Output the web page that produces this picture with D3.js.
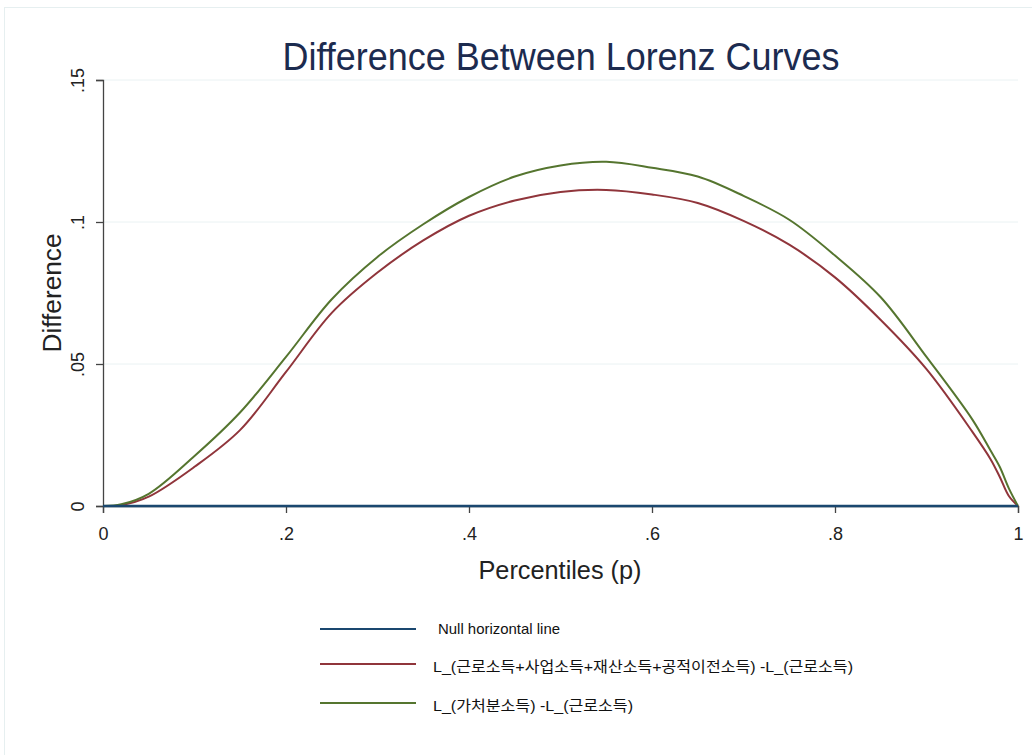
<!DOCTYPE html>
<html>
<head>
<meta charset="utf-8">
<script src="https://cdn.jsdelivr.net/npm/d3@7"></script>
<style>
  html, body { margin: 0; padding: 0; background: #ffffff; }
  svg { display: block; }
</style>
</head>
<body>
<svg id="chart" width="1032" height="755"></svg>
<script>
// Percentile grid shared by both difference curves
const percentiles = [0, 0.02, 0.05, 0.10, 0.15, 0.20, 0.25, 0.30, 0.35, 0.40, 0.45, 0.50,
  0.55, 0.60, 0.65, 0.70, 0.75, 0.80, 0.85, 0.90, 0.95, 0.97, 0.98, 0.99, 1.0];

// L_(근로+사업+재산+공적이전소득) - L_(근로소득)
const diffMarket = [0, 0.0003, 0.0033, 0.0138, 0.0268, 0.0472, 0.0680, 0.0822, 0.0935, 0.1022,
  0.1076, 0.1106, 0.1113, 0.1097, 0.1067, 0.1004, 0.0920, 0.0805, 0.0655, 0.0482, 0.0262,
  0.0165, 0.0103, 0.0035, 0];

// L_(가처분소득) - L_(근로소득)
const diffDisposable = [0, 0.0006, 0.0043, 0.0176, 0.0330, 0.0525, 0.0728, 0.0877, 0.0992, 0.1088,
  0.1160, 0.1199, 0.1212, 0.1191, 0.1160, 0.1092, 0.1008, 0.0882, 0.0735, 0.0525, 0.0305,
  0.0195, 0.0138, 0.0062, 0];

// Null reference line
const nullLine = [0, 0];
const nullP = [0, 1];

const xTicks = [0, 0.2, 0.4, 0.6, 0.8, 1];
const xTickLabels = ["0", ".2", ".4", ".6", ".8", "1"];
const yTicks = [0, 0.05, 0.1, 0.15];
const yTickLabels = ["0", ".05", ".1", ".15"];

const legendLabels = [
  "Null horizontal line",
  "L_(근로소득+사업소득+재산소득+공적이전소득) -L_(근로소득)",
  "L_(가처분소득) -L_(근로소득)"
];
const legendWidths = [122, 420, 200];
const colors = ["#1a476f", "#90353b", "#55752f"];

const svg = d3.select("#chart");
const font = "'Liberation Sans', Arial, 'Noto Sans CJK KR', sans-serif";

// Faint outer frame of the graph region
svg.append("rect")
  .attr("x", 4.5).attr("y", 7.5)
  .attr("width", 1040).attr("height", 760)
  .attr("fill", "none").attr("stroke", "#e6eff0").attr("stroke-width", 1);

const x = d3.scaleLinear().domain([0, 1]).range([103, 1018]);
const y = d3.scaleLinear().domain([0, 0.15]).range([506, 80]);

// Horizontal gridlines
svg.append("g")
  .selectAll("line")
  .data(yTicks.filter(d => d > 0))
  .join("line")
  .attr("x1", x(0)).attr("x2", x(1))
  .attr("y1", d => y(d)).attr("y2", d => y(d))
  .attr("stroke", "#eaf2f3").attr("stroke-width", 1);

// Y axis
const yAxis = d3.axisLeft(y)
  .tickValues(yTicks)
  .tickFormat((d, i) => yTickLabels[i])
  .tickSize(7)
  .tickPadding(9);
const gy = svg.append("g").attr("transform", `translate(${x(0)},0)`).call(yAxis);
gy.select(".domain").attr("stroke", "#444").attr("stroke-width", 1.3);
gy.selectAll(".tick line").attr("stroke", "#444").attr("stroke-width", 1.3);
gy.selectAll(".tick text")
  .attr("font-family", font).attr("font-size", 18).attr("fill", "#222")
  .attr("transform", "rotate(-90)")
  .attr("x", 0).attr("dy", 0).attr("y", -19)
  .attr("text-anchor", "middle");

// X axis
const xAxis = d3.axisBottom(x)
  .tickValues(xTicks)
  .tickFormat((d, i) => xTickLabels[i])
  .tickSize(7)
  .tickPadding(14);
const gx = svg.append("g").attr("transform", `translate(0,${y(0)})`).call(xAxis);
gx.select(".domain").attr("stroke", "#444").attr("stroke-width", 1.3);
gx.selectAll(".tick line").attr("stroke", "#444").attr("stroke-width", 1.3);
gx.selectAll(".tick text")
  .attr("font-family", font).attr("font-size", 18).attr("fill", "#222");

// Curves
const line = d3.line().x(d => x(d[0])).y(d => y(d[1])).curve(d3.curveCatmullRom.alpha(0.5));

const series = [
  nullP.map((p, i) => [p, nullLine[i]]),
  percentiles.map((p, i) => [p, diffMarket[i]]),
  percentiles.map((p, i) => [p, diffDisposable[i]])
];

svg.append("path").datum(series[1]).attr("d", line)
  .attr("fill", "none").attr("stroke", colors[1]).attr("stroke-width", 2);
svg.append("path").datum(series[2]).attr("d", line)
  .attr("fill", "none").attr("stroke", colors[2]).attr("stroke-width", 2);
svg.append("path").datum(series[0]).attr("d", line)
  .attr("fill", "none").attr("stroke", colors[0]).attr("stroke-width", 2.6);

// Title and axis titles
svg.append("text")
  .attr("x", 561).attr("y", 70)
  .attr("text-anchor", "middle")
  .attr("font-family", font).attr("font-size", 38).attr("fill", "#1c2b4f")
  .attr("textLength", 557).attr("lengthAdjust", "spacingAndGlyphs")
  .text("Difference Between Lorenz Curves");

svg.append("text")
  .attr("transform", `translate(61,${(y(0) + y(0.15)) / 2}) rotate(-90)`)
  .attr("text-anchor", "middle")
  .attr("font-family", font).attr("font-size", 25).attr("fill", "#222")
  .attr("textLength", 119).attr("lengthAdjust", "spacingAndGlyphs")
  .text("Difference");

svg.append("text")
  .attr("x", 560).attr("y", 579)
  .attr("text-anchor", "middle")
  .attr("font-family", font).attr("font-size", 25).attr("fill", "#222")
  .attr("textLength", 163).attr("lengthAdjust", "spacingAndGlyphs")
  .text("Percentiles (p)");

// Legend
const legendY = [629, 664, 703];
const legend = svg.append("g");
legendLabels.forEach((label, i) => {
  legend.append("line")
    .attr("x1", 320).attr("x2", 416)
    .attr("y1", legendY[i]).attr("y2", legendY[i])
    .attr("stroke", colors[i]).attr("stroke-width", 2.2);
  legend.append("text")
    .attr("x", i === 0 ? 438 : 433).attr("y", legendY[i] + (i === 0 ? 5 : 8))
    .attr("font-family", font).attr("font-size", 15).attr("fill", "#111")
    .attr("textLength", legendWidths[i]).attr("lengthAdjust", "spacingAndGlyphs")
    .text(label);
});
</script>
</body>
</html>
